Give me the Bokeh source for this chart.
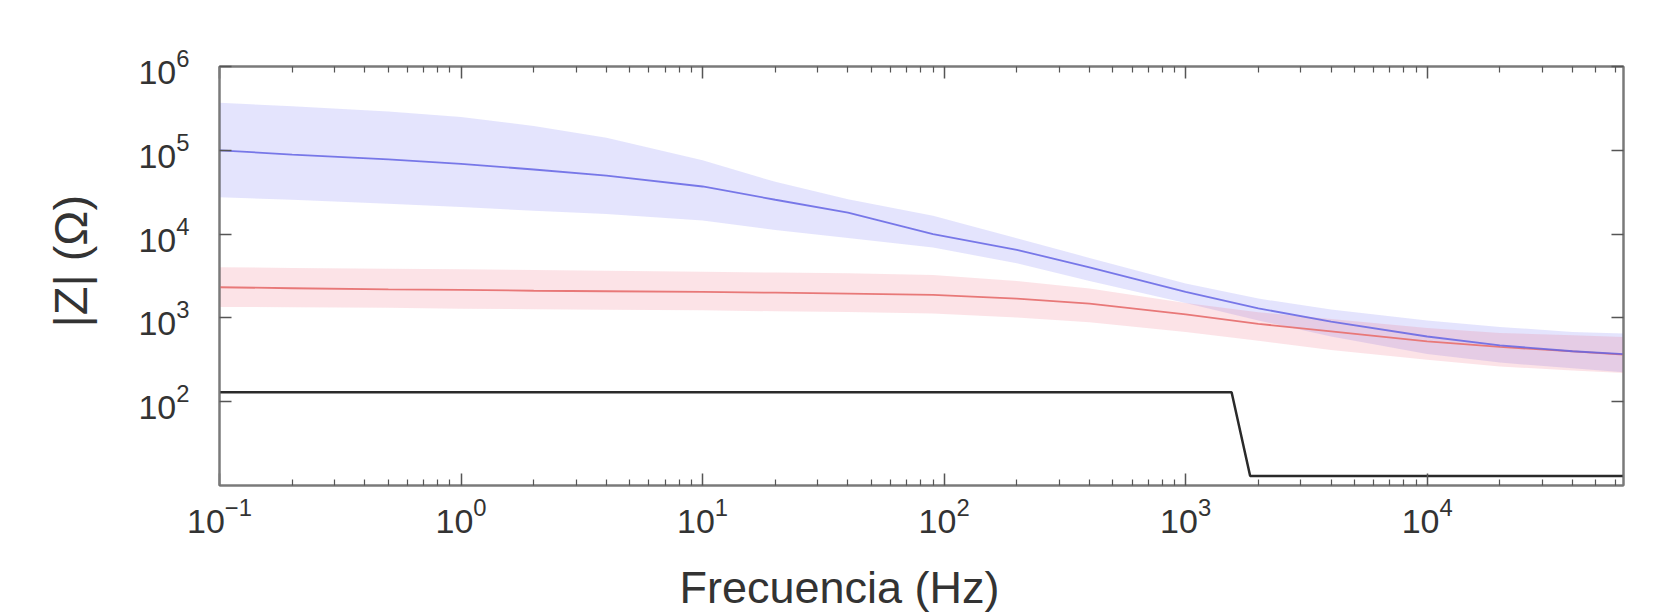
from bokeh.plotting import figure
from bokeh.models import Range1d, FixedTicker, LogAxis, CustomJSTickFormatter, Title
from bokeh.embed import file_html
from bokeh.resources import INLINE

# ---- data ----
freq = [0.1, 0.2, 0.5, 1, 2, 4, 10, 20, 40, 90, 200, 400, 1000, 2000, 4000,
        10000, 20000, 40000, 65000]

blue_mean = [100000, 89000, 78000, 69000, 59000, 50000, 37000, 25700, 18000, 10000,
             6500, 4000, 2050, 1300, 900, 600, 470, 400, 370]
blue_upper = [370000, 335000, 290000, 250000, 195000, 141000, 76000, 42000, 26000, 16500,
              8900, 5200, 2570, 1700, 1260, 930, 780, 680, 650]
blue_lower = [27500, 25700, 23000, 21000, 19000, 17400, 14500, 11200, 9000, 6900,
              4500, 2750, 1510, 930, 600, 370, 293, 250, 225]

red_mean = [2320, 2260, 2190, 2160, 2110, 2080, 2040, 2000, 1950, 1880,
            1700, 1480, 1100, 850, 690, 525, 450, 398, 365]
red_upper = [4030, 3950, 3870, 3800, 3720, 3650, 3550, 3480, 3400, 3240,
             2750, 2240, 1510, 1170, 970, 760, 660, 620, 590]
red_lower = [1350, 1340, 1320, 1290, 1270, 1250, 1230, 1200, 1175, 1130,
             1010, 890, 680, 535, 415, 316, 263, 235, 220]

black_freq = [0.1, 1550, 1850, 65000]
black_z = [130, 130, 13, 13]

x_major = [0.1, 1, 10, 100, 1000, 10000]
x_minor = [k * m for m in [0.1, 1, 10, 100, 1000, 10000] for k in range(2, 10) if k * m <= 65000]
y_major = [1e2, 1e3, 1e4, 1e5, 1e6]

x_title = "Frecuencia (Hz)"
y_title = "|Z| (Ω)"

AXIS = "#7a7a7a"
TXT = "#333333"
FONT = "Liberation Sans"

p = figure(width=1655, height=614, x_axis_type="log", y_axis_type="log",
           x_range=Range1d(0.1, 65000), y_range=Range1d(10, 1e6),
           output_backend="svg", toolbar_location=None,
           min_border_left=219, min_border_right=32, min_border_top=66,
           min_border_bottom=129)
p.grid.visible = False
p.outline_line_color = AXIS
p.outline_line_width = 2
p.background_fill_color = "white"
p.border_fill_color = "white"

xt = FixedTicker(ticks=x_major, minor_ticks=x_minor)
yt = FixedTicker(ticks=y_major, minor_ticks=[])

def style(ax, standoff):
    ax.axis_line_color = AXIS
    ax.axis_line_width = 2
    ax.major_tick_in = 12
    ax.major_tick_out = 0
    ax.minor_tick_in = 6
    ax.minor_tick_out = 0
    ax.major_tick_line_color = "#555555"
    ax.major_tick_line_width = 1.5
    ax.minor_tick_line_color = "#555555"
    ax.minor_tick_line_width = 1.2
    ax.major_label_text_font = FONT
    ax.major_label_text_font_size = "34px"
    ax.major_label_text_color = TXT
    ax.major_label_standoff = standoff

bx = p.below[0]
ly = p.left[0]
bx.ticker = xt
ly.ticker = yt
style(bx, 12)
style(ly, 30)

blank = "return ''"
top_ax = LogAxis(ticker=FixedTicker(ticks=x_major, minor_ticks=x_minor),
                 formatter=CustomJSTickFormatter(code=blank))
right_ax = LogAxis(ticker=FixedTicker(ticks=y_major, minor_ticks=[]),
                   formatter=CustomJSTickFormatter(code=blank))
style(top_ax, 0)
style(right_ax, 0)
p.add_layout(top_ax, "above")
p.add_layout(right_ax, "right")

xlabel = Title(text=x_title, align="left", offset=460, vertical_align="bottom",
               text_font=FONT, text_font_size="45px", text_font_style="normal",
               text_color=TXT, standoff=0)
try:
    xlabel.padding = dict(left=0, right=0, top=24, bottom=0)
except Exception:
    xlabel.standoff = 20
p.add_layout(xlabel, "below")

ylabel = Title(text=y_title, align="left", offset=158, vertical_align="bottom",
               text_font=FONT, text_font_size="47px", text_font_style="normal",
               text_color=TXT, standoff=78)
p.add_layout(ylabel, "left")

# bands
p.varea(x=freq, y1=blue_lower, y2=blue_upper, fill_color="#5a5af0", fill_alpha=0.16)
p.varea(x=freq, y1=red_lower, y2=red_upper, fill_color="#f05a6e", fill_alpha=0.17)
# lines
p.line(freq, red_mean, line_color="#e87878", line_width=1.8)
p.line(freq, blue_mean, line_color="#6464e4", line_width=1.8, line_alpha=0.85)
p.line(black_freq, black_z, line_color="#2a2a2a", line_width=2.5)

open("out.html", "w").write(file_html(p, INLINE))
